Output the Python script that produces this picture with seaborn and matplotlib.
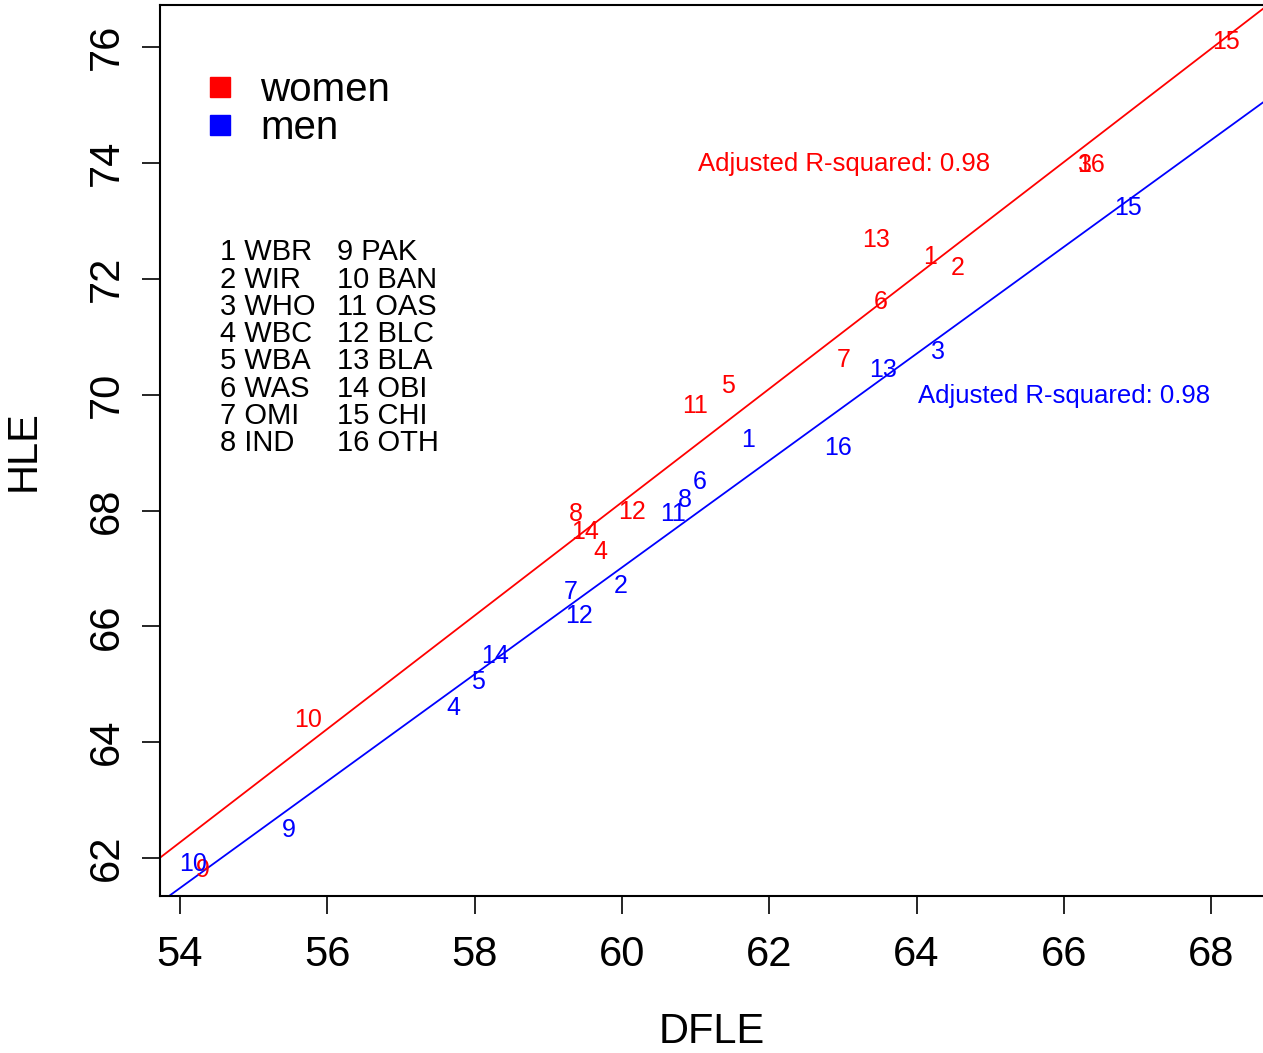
import matplotlib
matplotlib.use("Agg")
import matplotlib.pyplot as plt
from matplotlib.lines import Line2D
import seaborn as sns

# Data: DFLE (x) and HLE (y) by region code 1..16
codes = ["1", "2", "3", "4", "5", "6", "7", "8", "9", "10", "11", "12", "13", "14", "15", "16"]
women_x = [64.19, 64.56, 66.29, 59.71, 61.44, 63.51, 63.01, 59.37, 54.31, 55.74, 60.99, 60.14, 63.45, 59.50, 68.20, 66.37]
women_y = [72.38, 72.19, 73.97, 67.28, 70.15, 71.60, 70.60, 67.94, 61.79, 64.38, 69.81, 67.98, 72.67, 67.63, 76.09, 73.97]
men_x = [61.71, 59.99, 64.29, 57.71, 58.04, 61.05, 59.30, 60.86, 55.48, 54.18, 60.69, 59.42, 63.54, 58.28, 66.87, 62.94]
men_y = [69.22, 66.70, 70.74, 64.59, 65.04, 68.49, 66.59, 68.18, 62.48, 61.90, 67.94, 66.18, 70.43, 65.49, 73.23, 69.08]

key_left = ["1 WBR", "2 WIR", "3 WHO", "4 WBC", "5 WBA", "6 WAS", "7 OMI", "8 IND"]
key_right = ["9 PAK", "10 BAN", "11 OAS", "12 BLC", "13 BLA", "14 OBI", "15 CHI", "16 OTH"]
r2_women = 0.98
r2_men = 0.98

sns.set_style("white")
plt.rcParams["font.family"] = ["Liberation Sans", "DejaVu Sans"]
plt.rcParams["text.color"] = "black"
plt.rcParams["axes.labelcolor"] = "black"
plt.rcParams["xtick.color"] = "black"
plt.rcParams["ytick.color"] = "black"

fig = plt.figure(figsize=(12.63, 10.53), dpi=100)
ax = fig.add_axes([0.1267, 0.1491, 0.8743, 0.8462])

xlim = (53.73, 68.72)
ylim = (61.344, 76.73)
ax.set_xlim(xlim)
ax.set_ylim(ylim)

# Regression lines
sns.regplot(x=women_x, y=women_y, scatter=False, ci=None, truncate=False,
            color="red", line_kws={"lw": 1.3}, ax=ax)
sns.regplot(x=men_x, y=men_y, scatter=False, ci=None, truncate=False,
            color="blue", line_kws={"lw": 1.3}, ax=ax)
ax.set_xlim(xlim)
ax.set_ylim(ylim)

# Code labels as point markers
for c, x, y in zip(codes, women_x, women_y):
    ax.text(x, y, c, color="red", fontsize=18, ha="center", va="center")
for c, x, y in zip(codes, men_x, men_y):
    ax.text(x, y, c, color="blue", fontsize=18, ha="center", va="center")

ax.text(63.01, 73.99, f"Adjusted R-squared: {r2_women:.2f}", color="red",
        fontsize=18.5, ha="center", va="center")
ax.text(66.0, 69.98, f"Adjusted R-squared: {r2_men:.2f}", color="blue",
        fontsize=18.5, ha="center", va="center")

# Region key
ax.text(0.0544, 0.738, "\n".join(key_left), transform=ax.transAxes,
        fontsize=21, ha="left", va="top", linespacing=0.965)
ax.text(0.1605, 0.738, "\n".join(key_right), transform=ax.transAxes,
        fontsize=21, ha="left", va="top", linespacing=0.965)

# Legend
handles = [Line2D([], [], marker="s", ls="", color="red", markersize=14),
           Line2D([], [], marker="s", ls="", color="blue", markersize=14)]
ax.legend(handles, ["women", "men"], loc="upper left", bbox_to_anchor=(0.0453, 0.9255),
          frameon=False, fontsize=29, handlelength=0.5, handletextpad=0.74,
          labelspacing=0.0, borderpad=0, borderaxespad=0)

ax.set_xticks(range(54, 69, 2))
ax.set_yticks(range(62, 77, 2))
ax.tick_params(axis="both", length=13, width=1.2, pad=15, labelsize=30,
               direction="out", bottom=True, left=True, color="black")
ax.tick_params(axis="y", labelrotation=90, pad=11)
for lab in ax.get_yticklabels():
    lab.set_va("center")

ax.set_xlabel("DFLE", fontsize=30, labelpad=27)
ax.set_ylabel("HLE", fontsize=30, labelpad=31)

for side in ["left", "bottom", "top"]:
    ax.spines[side].set_color("black")
    ax.spines[side].set_linewidth(1.5)
ax.spines["right"].set_visible(False)

fig.savefig("out.png", dpi=100)
